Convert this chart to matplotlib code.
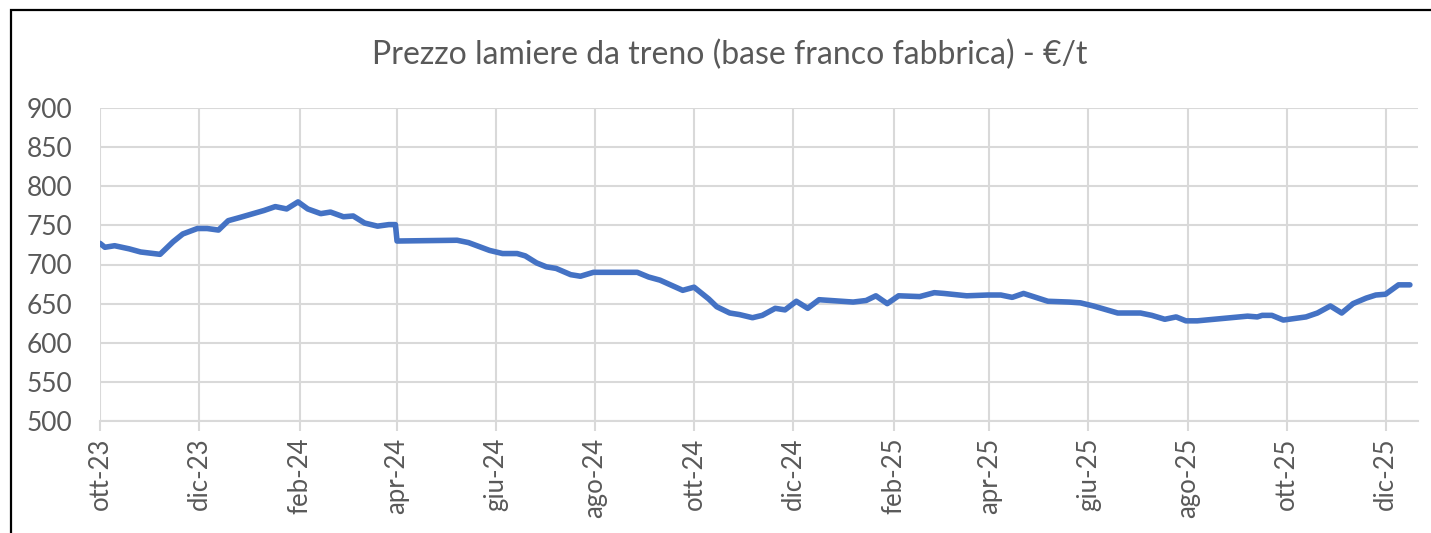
"""Prezzo lamiere da treno - line chart."""

import matplotlib

matplotlib.use("Agg")

import matplotlib.pyplot as plt
import numpy as np
from matplotlib.patches import Rectangle

dates = [
    "2023-10-01", "2023-10-04", "2023-10-10", "2023-10-19", "2023-10-26",
    "2023-11-07", "2023-11-15", "2023-11-21", "2023-11-30", "2023-12-06",
    "2023-12-13", "2023-12-19", "2023-12-26", "2024-01-10", "2024-01-17",
    "2024-01-24", "2024-01-31", "2024-02-06", "2024-02-14", "2024-02-20",
    "2024-02-28", "2024-03-05", "2024-03-12", "2024-03-20", "2024-03-27",
    "2024-03-31", "2024-04-01", "2024-05-08", "2024-05-15", "2024-05-28",
    "2024-06-05", "2024-06-14", "2024-06-19", "2024-06-26", "2024-07-02",
    "2024-07-08", "2024-07-17", "2024-07-23", "2024-07-31", "2024-08-27",
    "2024-09-03", "2024-09-10", "2024-09-24", "2024-10-01", "2024-10-10",
    "2024-10-15", "2024-10-23", "2024-10-29", "2024-11-06", "2024-11-12",
    "2024-11-20", "2024-11-26", "2024-12-03", "2024-12-10", "2024-12-17",
    "2025-01-07", "2025-01-15", "2025-01-21", "2025-01-28", "2025-02-04",
    "2025-02-17", "2025-02-26", "2025-03-04", "2025-03-18", "2025-03-31",
    "2025-04-08", "2025-04-15", "2025-04-22", "2025-05-07", "2025-05-20",
    "2025-05-27", "2025-06-04", "2025-06-19", "2025-07-03", "2025-07-10",
    "2025-07-18", "2025-07-25", "2025-07-31", "2025-08-07", "2025-09-07",
    "2025-09-13", "2025-09-16", "2025-09-22", "2025-09-29", "2025-10-13",
    "2025-10-20", "2025-10-28", "2025-11-04", "2025-11-11", "2025-11-19",
    "2025-11-25", "2025-12-01", "2025-12-09", "2025-12-16",
]
prices = [
    727, 722, 724, 720, 716,
    713, 729, 739, 746, 746,
    744, 756, 760, 769, 774,
    771, 780, 771, 765, 767,
    761, 762, 753, 749, 751,
    751, 730, 731, 728, 718,
    714, 714, 711, 702, 697,
    695, 687, 685, 690, 690,
    684, 680, 667, 671, 656,
    646, 638, 636, 632, 635,
    644, 642, 653, 644, 655,
    652, 654, 660, 650, 660,
    659, 664, 663, 660, 661,
    661, 658, 663, 653, 652,
    651, 647, 638, 638, 635,
    630, 633, 628, 628, 634,
    633, 635, 635, 629, 633,
    638, 647, 638, 650, 657,
    661, 662, 674, 674,
]

tick_dates = [
    "2023-10-01", "2023-12-01", "2024-02-01", "2024-04-01", "2024-06-01",
    "2024-08-01", "2024-10-01", "2024-12-01", "2025-02-01", "2025-04-01",
    "2025-06-01", "2025-08-01", "2025-10-01", "2025-12-01",
]
tick_labels = [
    "ott-23", "dic-23", "feb-24", "apr-24", "giu-24", "ago-24", "ott-24",
    "dic-24", "feb-25", "apr-25", "giu-25", "ago-25", "ott-25", "dic-25",
]
y_ticks = list(range(500, 901, 50))

title = "Prezzo lamiere da treno (base franco fabbrica) - €/t"

TEXT = "#595959"
GRID = "#D9D9D9"
LINE = "#4472C4"

plt.rcParams["font.family"] = ["Lato", "DejaVu Sans"]

x = np.array(dates, dtype="datetime64[D]")
xt = np.array(tick_dates, dtype="datetime64[D]")

fig = plt.figure(figsize=(14.31, 5.33), dpi=100)
ax = fig.add_axes([100 / 1431, 1 - 421 / 533, 1318 / 1431, 313 / 533])

ax.plot(x, prices, color=LINE, linewidth=4.0, solid_joinstyle="round",
        solid_capstyle="round", zorder=3)

ax.set_xlim(np.datetime64("2023-10-01"), np.datetime64("2025-12-21"))
ax.set_ylim(500, 900)
ax.set_yticks(y_ticks)
ax.set_xticks(xt)
ax.set_xticklabels(tick_labels, rotation=90)

ax.grid(True, color=GRID, linewidth=1.5)
ax.set_axisbelow(True)
for side in ("top", "right", "left"):
    ax.spines[side].set_visible(False)
ax.spines["bottom"].set_color(GRID)
ax.spines["bottom"].set_linewidth(1.5)

ax.tick_params(axis="x", colors=GRID, length=7, width=1.5, pad=5,
               labelcolor=TEXT, labelsize=18.5)
ax.tick_params(axis="y", length=0, pad=20, labelcolor=TEXT, labelsize=19)

fig.text(730 / 1431, 1 - 55 / 533, title, ha="center", va="center",
         color=TEXT, fontsize=23)

# chart frame (only top and left edges are inside the picture)
fig.patches.append(Rectangle((11 / 1431, -0.1), 1.2, 1 - 10 / 533 + 0.1,
                             transform=fig.transFigure, fill=False,
                             edgecolor="black", linewidth=1.6))

fig.savefig("out.png", dpi=100)
plt.close(fig)
